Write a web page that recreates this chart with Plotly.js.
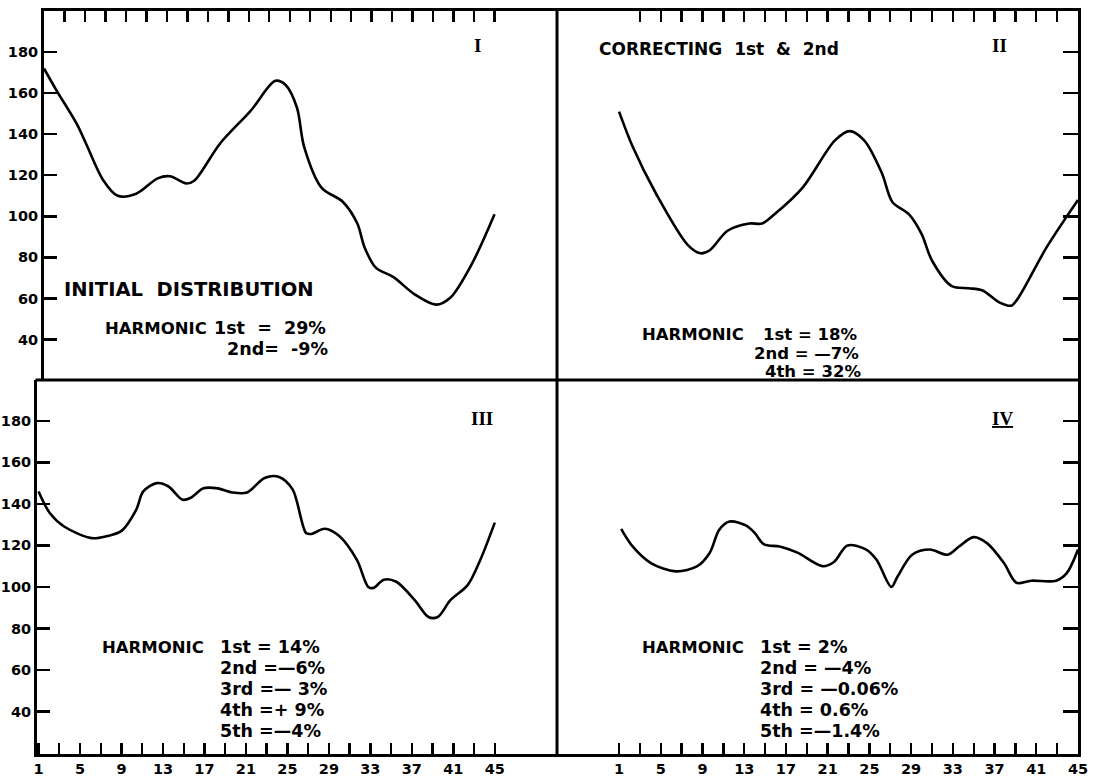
<!DOCTYPE html>
<html>
<head>
<meta charset="utf-8">
<script src="https://cdn.plot.ly/plotly-3.0.1.min.js"></script>
<style>html,body{margin:0;padding:0;background:#fff;}#chart{width:1100px;height:779px;}</style>
</head>
<body>
<div id="chart"></div>
<script>
// ---- data ----
const panel1X = [1, 2.2, 4.2, 5.1, 6.8, 8.2, 10.0, 12.1, 13.3, 14.9, 15.7, 18.2, 21.2, 23.6, 24.6, 25.7, 26.4, 28.1, 30.2, 31.6, 32.3, 33.4, 35.1, 37.2, 39.3, 40.7, 42.8, 45];
const panel1Y = [172, 161.5, 145, 135.5, 117.5, 110, 111, 118.5, 119.5, 116, 117.5, 135.5, 151.5, 166, 164, 153, 134, 114, 107, 96.5, 85, 75, 70.5, 62, 57, 60.5, 77, 101];

const panel2X = [1, 2.3, 4.55, 7.6, 8.8, 9.7, 11.4, 13.5, 14.7, 15.9, 18.6, 21.7, 23.1, 24.5, 26.2, 27.2, 28.8, 30, 31, 32.9, 34.5, 35.8, 37.5, 38.6, 39.3, 42, 45];
const panel2Y = [151, 134, 111, 86, 82, 83.5, 93, 96.5, 96.5, 101, 114, 137, 141.5, 137, 121, 107, 101, 91.5, 78.5, 66, 65, 64, 58, 56.5, 60.5, 85, 108];

const panel3X = [1, 2.1, 3.5, 6.1, 7.6, 9, 10.4, 11.1, 12.4, 13.5, 14.9, 15.7, 16.9, 18.3, 19.7, 21.1, 22.8, 24.2, 25.5, 26.8, 27.3, 28.6, 30, 31.7, 32.8, 33.3, 34.3, 35.5, 37.3, 38.6, 39.5, 40.7, 42.4, 43.6, 45];
const panel3Y = [146, 135.5, 129, 123.5, 124.5, 127, 137, 146, 150, 148.5, 142, 143, 147.5, 147.5, 145.5, 145.5, 152.5, 153, 147, 126, 125.5, 128, 124.5, 113, 100, 99.5, 103.5, 102.5, 93.5, 85.5, 85.5, 93.5, 101, 113, 131];

const panel4X = [1.2, 2.3, 4.05, 6.45, 8.5, 9.7, 10.6, 11.6, 13.2, 14, 14.9, 16.4, 18.1, 20.5, 21.6, 22.9, 24.7, 25.7, 27.1, 27.7, 29.1, 30.8, 32.5, 33.6, 35, 36.3, 37.9, 39.1, 40.5, 42.9, 43.9, 45];
const panel4Y = [128, 119.5, 111.5, 107.5, 110, 116.5, 127.5, 131.5, 129.5, 126, 120.5, 119.5, 116.5, 110, 112, 120, 118, 113, 100, 105, 115.5, 118, 115.5, 119.5, 124, 121, 111.5, 102, 103, 103, 106.5, 118];

const yTickVals = [40, 60, 80, 100, 120, 140, 160, 180];
const xTickVals = [1,3,5,7,9,11,13,15,17,19,21,23,25,27,29,31,33,35,37,39,41,43,45];
const xTickText = ['1','','5','','9','','13','','17','','21','','25','','29','','33','','37','','41','','45'];

const panelLabels = ['I', 'II', 'III', 'IV'];
const titleI = 'INITIAL\u00a0 DISTRIBUTION';
const titleII = 'CORRECTING\u00a0 1st\u00a0 &amp;\u00a0 2nd';
const harm1 = ['1st\u00a0 =\u00a0 29%', '2nd=\u00a0 -9%'];
const harm2 = ['1st = 18%', '2nd = \u20147%', '4th = 32%'];
const harm3 = ['1st = 14%', '2nd =\u20146%', '3rd =\u2014 3%', '4th =+ 9%', '5th =\u20144%'];
const harm4 = ['1st = 2%', '2nd = \u20144%', '3rd = \u20140.06%', '4th = 0.6%', '5th =\u20141.4%'];

// ---- drawing ----
const W = 1100, H = 779;
const LW = 3;
const px = v => v / W;
const py = v => 1 - v / H;
const FONT = 'DejaVu Sans';
const lineStyle = {color: '#000', width: 2.6, shape: 'spline', smoothing: 0.9};

const traces = [
  {x: panel1X, y: panel1Y, xaxis: 'x', yaxis: 'y', mode: 'lines', line: lineStyle, hoverinfo: 'skip'},
  {x: panel2X, y: panel2Y, xaxis: 'x2', yaxis: 'y2', mode: 'lines', line: lineStyle, hoverinfo: 'skip'},
  {x: panel3X, y: panel3Y, xaxis: 'x3', yaxis: 'y3', mode: 'lines', line: lineStyle, hoverinfo: 'skip'},
  {x: panel4X, y: panel4Y, xaxis: 'x4', yaxis: 'y4', mode: 'lines', line: lineStyle, hoverinfo: 'skip'}
];

// outer borders come from the axis lines; the middle cross is drawn as two shapes
const frame = {showline: true, mirror: false, linecolor: '#000', linewidth: LW, showgrid: false, zeroline: false, fixedrange: true};
const tickFont = {family: FONT, size: 14.5, color: '#000', weight: 700};

const topX = (dom, rng, anchor) => Object.assign({}, frame, {
  domain: dom, range: rng, anchor: anchor, side: 'top',
  ticks: 'inside', ticklen: 11, tickwidth: 2.4, tickcolor: '#000',
  tickmode: 'array', tickvals: xTickVals.slice(1), showticklabels: false
});
const botX = (dom, rng, anchor, vals) => Object.assign({}, frame, {
  domain: dom, range: rng, anchor: anchor, side: 'bottom',
  ticks: 'inside', ticklen: 11, tickwidth: 2.4, tickcolor: '#000',
  tickmode: 'array', tickvals: vals, ticktext: xTickText, tickfont: tickFont
});
const leftY = (dom, rng, anchor) => Object.assign({}, frame, {
  domain: dom, range: rng, anchor: anchor, side: 'left',
  ticks: 'inside', ticklen: 13, tickwidth: 2.4, tickcolor: '#000',
  tickmode: 'array', tickvals: yTickVals, tickfont: tickFont, ticklabelstandoff: 0
});
const rightY = (dom, rng, anchor) => Object.assign({}, frame, {
  domain: dom, range: rng, anchor: anchor, side: 'right',
  ticks: 'inside', ticklen: 15, tickwidth: 2.4, tickcolor: '#000',
  tickmode: 'array', tickvals: yTickVals, showticklabels: false
});

const upperDom = [1 - 380 / H, 1 - 11 / H];
const lowerDom = [1 - 754 / H, 1 - 380 / H];

function ann(text, x, y, opts) {
  return Object.assign({
    text: text, xref: 'paper', yref: 'paper', x: px(x), y: py(y),
    xanchor: 'left', yanchor: 'middle', showarrow: false,
    font: {family: FONT, size: 17.5, color: '#000', weight: 700}
  }, opts || {});
}
const romanFont = {family: 'Liberation Serif', size: 19, color: '#000', weight: 700};
const harmFont = {family: FONT, size: 16.5, color: '#000', weight: 700};
const smallLine = {family: FONT, size: 16.5, color: '#000', weight: 700};

const annotations = [
  ann(panelLabels[0], 477, 45, {xanchor: 'center', font: romanFont}),
  ann(panelLabels[1], 999, 45, {xanchor: 'center', font: romanFont}),
  ann(panelLabels[2], 482, 418, {xanchor: 'center', font: romanFont}),
  ann('<u>' + panelLabels[3] + '</u>', 1002, 418, {xanchor: 'center', font: romanFont}),
  ann(titleI, 62, 290, {font: {family: FONT, size: 19.5, color: '#000', weight: 700}}),
  ann(titleII, 597, 49, {font: {family: FONT, size: 17, color: '#000', weight: 700}}),
  ann('HARMONIC', 103, 328, {font: harmFont}),
  ann(harm1[0], 328, 328, {xanchor: 'right'}),
  ann(harm1[1], 330, 349, {xanchor: 'right'}),
  ann('HARMONIC', 640, 335, {font: harmFont}),
  ann(harm2[0], 859, 335, {xanchor: 'right', font: smallLine}),
  ann(harm2[1], 861, 353, {xanchor: 'right', font: smallLine}),
  ann(harm2[2], 863, 371.5, {xanchor: 'right', font: smallLine}),
  ann('HARMONIC', 100, 647, {font: harmFont})
];
harm3.forEach((t, i) => annotations.push(ann(t, 218, 647 + i * 21)));
annotations.push(ann('HARMONIC', 640, 647, {font: harmFont}));
harm4.forEach((t, i) => annotations.push(ann(t, 758, 647 + i * 21)));

const shapes = [
  {type: 'line', xref: 'paper', yref: 'paper', x0: px(557), x1: px(557), y0: py(9.5), y1: py(755.5), line: {color: '#000', width: LW}},
  {type: 'line', xref: 'paper', yref: 'paper', x0: px(35.5), x1: px(1079.5), y0: py(380), y1: py(380), line: {color: '#000', width: LW}}
];

const layout = {
  width: W, height: H,
  margin: {l: 0, r: 0, t: 0, b: 0},
  paper_bgcolor: '#fff', plot_bgcolor: '#fff',
  showlegend: false,
  xaxis: topX([px(44), px(557)], [1, 51.1], 'y'),
  yaxis: leftY(upperDom, [20.3, 200], 'x'),
  xaxis2: topX([px(557), px(1078)], [-4.95, 45], 'y2'),
  yaxis2: rightY(upperDom, [20.3, 200], 'x2'),
  xaxis3: botX([px(37), px(557)], [0.85, 51.0], 'y3', xTickVals),
  yaxis3: leftY(lowerDom, [19.5, 199.7], 'x3'),
  xaxis4: botX([px(557), px(1078)], [-4.95, 45], 'y4', xTickVals),
  yaxis4: rightY(lowerDom, [19.5, 199.7], 'x4'),
  shapes: shapes,
  annotations: annotations
};

Plotly.newPlot('chart', traces, layout, {displayModeBar: false, staticPlot: true});
</script>
</body>
</html>
